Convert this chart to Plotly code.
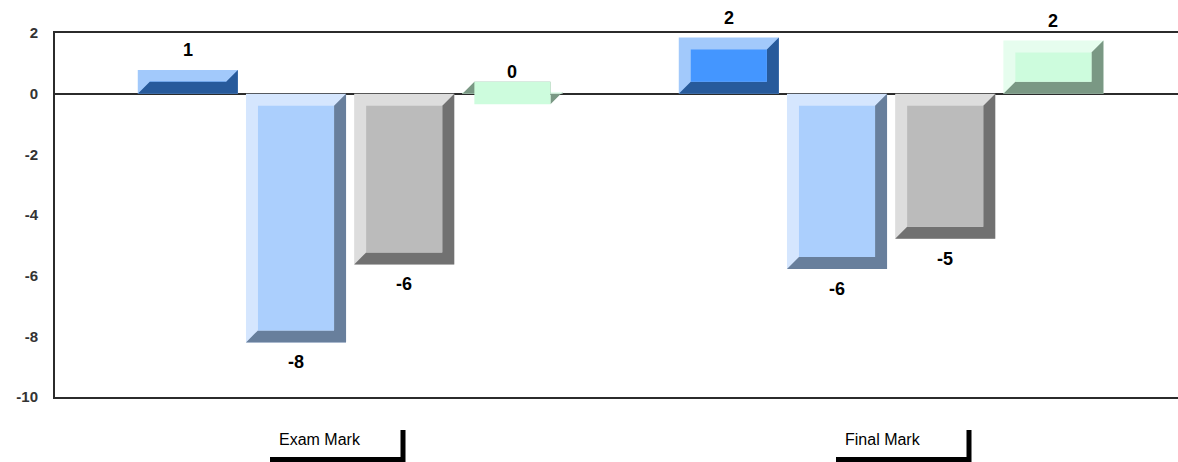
import plotly.graph_objects as go

# ---- data -------------------------------------------------------------
categories = ["Exam Mark", "Final Mark"]
series_names = ["Series 1", "Series 2", "Series 3", "Series 4"]
blue_vals = [0.78, 1.85]
light_blue_vals = [-8.2, -5.78]
gray_vals = [-5.63, -4.78]
green_vals = [0.05, 1.75]
y_ticks = [2, 0, -2, -4, -6, -8, -10]
y_tick_text = ["2", "0", "-2", "-4", "-6", "-8", "-10"]

# (edge, face, shadow) colours for the bevelled bars
SERIES_COLORS = [
    ("#a2c9fb", "#4496ff", "#275a9b"),
    ("#d5e6fe", "#abcffd", "#687f9c"),
    ("#dddddd", "#bbbbbb", "#717171"),
    ("#e6fdee", "#cdfcdd", "#7a9884"),
]

W, H = 1178, 462
M_L, M_R, M_T, M_B = 55, 0, 33, 65
CAT_PX = 541  # pixels between category centres
BAR_W = 0.185
BAR_PITCH = 0.2
FIRST_OFFSET = -0.347
BEVEL_PX = 12
AXIS_COLOR = "#2b2b2b"
FONT = "Arial, Liberation Sans, sans-serif"

plot_w = W - M_L - M_R
plot_h = H - M_T - M_B
y_range = [-10, 2]
x_range = [-0.5, -0.5 + plot_w / CAT_PX]
bevel_x = BEVEL_PX / CAT_PX
bevel_y = BEVEL_PX * (y_range[1] - y_range[0]) / plot_h


def px_x(px):
    return (px - M_L) / plot_w


def px_y(py):
    return (H - M_B - py) / plot_h


series_vals = [blue_vals, light_blue_vals, gray_vals, green_vals]

fig = go.Figure()
shapes = []
annotations = []

for s, (name, vals) in enumerate(zip(series_names, series_vals)):
    edge, face, shadow = SERIES_COLORS[s]
    offset = FIRST_OFFSET + s * BAR_PITCH
    fig.add_trace(
        go.Bar(
            x=list(range(len(categories))),
            y=vals,
            name=name,
            offset=offset,
            width=BAR_W,
            marker=dict(color=edge, line=dict(width=0)),
            customdata=categories,
            hovertemplate="%{customdata}: %{y}<extra>" + name + "</extra>",
        )
    )
    for c, v in enumerate(vals):
        x0 = c + offset
        x1 = x0 + BAR_W
        top, bot = max(0, v), min(0, v)
        # shadow on right + bottom edges
        path = (
            f"M {x1},{top} L {x1},{bot} L {x0},{bot} "
            f"L {x0 + bevel_x},{bot + bevel_y} L {x1 - bevel_x},{bot + bevel_y} "
            f"L {x1 - bevel_x},{top - bevel_y} Z"
        )
        shapes.append(dict(type="path", path=path, xref="x", yref="y",
                           fillcolor=shadow, line=dict(width=0), layer="above"))
        shapes.append(dict(type="rect", xref="x", yref="y",
                           x0=x0 + bevel_x, x1=x1 - bevel_x,
                           y0=bot + bevel_y, y1=top - bevel_y,
                           fillcolor=face, line=dict(width=0), layer="above"))
        annotations.append(dict(
            x=(x0 + x1) / 2, y=v, xref="x", yref="y",
            text=f"{v:.0f}", showarrow=False,
            yshift=20 if v >= 0 else -20,
            font=dict(family=FONT, size=18, color="black", weight="bold"),
        ))

# category labels with their boxed bracket
label_boxes = [270, 836]
for cat, left in zip(categories, label_boxes):
    annotations.append(dict(
        x=px_x(left + 7), y=px_y(439), xref="paper", yref="paper",
        xanchor="left", yanchor="middle", text=cat, showarrow=False,
        font=dict(family=FONT, size=16, color="black"),
    ))
    right = left + 133
    shapes.append(dict(
        type="path", xref="paper", yref="paper",
        path=(f"M {px_x(left)},{px_y(459.5)} L {px_x(right)},{px_y(459.5)} "
              f"M {px_x(right)},{px_y(462)} L {px_x(right)},{px_y(430)}"),
        line=dict(color="black", width=5),
    ))

fig.update_layout(
    width=W,
    height=H,
    margin=dict(l=M_L, r=M_R, t=M_T, b=M_B),
    paper_bgcolor="white",
    plot_bgcolor="white",
    barmode="overlay",
    showlegend=False,
    shapes=shapes,
    annotations=annotations,
    xaxis=dict(
        range=x_range,
        showticklabels=False,
        showgrid=False,
        zeroline=False,
        showline=True,
        mirror=True,
        linecolor=AXIS_COLOR,
        linewidth=2,
        ticks="",
    ),
    yaxis=dict(
        range=y_range,
        tickvals=y_ticks,
        ticktext=y_tick_text,
        ticks="",
        showgrid=False,
        showline=True,
        linecolor=AXIS_COLOR,
        linewidth=2,
        zeroline=True,
        zerolinecolor=AXIS_COLOR,
        zerolinewidth=2,
        ticklabelstandoff=12,
        tickfont=dict(family=FONT, size=15, color="#333333", weight="bold"),
    ),
)

# drop the default page margin so the figure sits at the window's top-left
fig.write_html(
    "out.html",
    config={"displayModeBar": False},
    post_script="document.body.style.margin='0';",
)
